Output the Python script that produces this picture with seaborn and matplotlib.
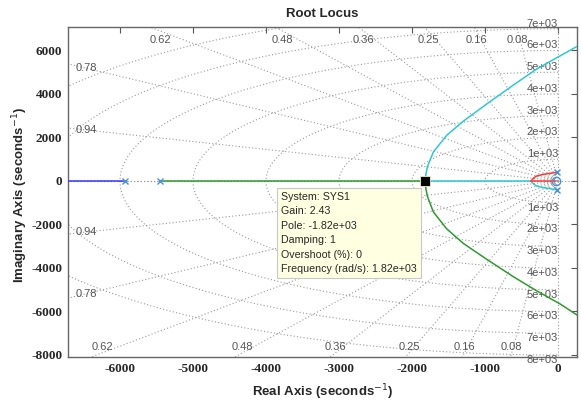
import numpy as np
import matplotlib
matplotlib.use('Agg')
import matplotlib.pyplot as plt
import seaborn as sns

# branch data (real, imag)
blue_re = [-7000, -5930]
blue_im = [0, 0]
green_axis_re = [-5450, -1820]
green_axis_im = [0, 0]
green_re = [-1820, -1810, -1790, -1708, -1525, -1297, -977, -612, -292, 27, 278]
green_im = [0, -350, -700, -1420, -2200, -2870, -3600, -4400, -5050, -5650, -6200]
cyan_re = [-1820, -1810, -1790, -1708, -1525, -1297, -977, -612, -292, 27, 278]
cyan_im = [0, 300, 650, 1330, 2100, 2750, 3540, 4410, 5150, 5750, 6220]
cyan_axis_re = [-1820, -370]
cyan_axis_im = [0, 0]
cyan_loop_re = [-370, -330, -292, -201, -110, -10]
cyan_loop_im = [0, -150, -230, -307, -352, -400]
red_loop_re = [-370, -330, -292, -201, -110, -10]
red_loop_im = [0, 150, 230, 307, 352, 400]
red_axis_re = [-370, -30]
red_axis_im = [0, 0]

pole_re = [-5930, -5450, -10, -10]
pole_im = [0, 0, 400, -400]
zero_re = [-30]
zero_im = [0]
sel_re = [-1820]
sel_im = [0]

# damping / natural frequency grid
zetas = [0.08, 0.16, 0.25, 0.36, 0.48, 0.62, 0.78, 0.94]
wns = [1000, 2000, 3000, 4000, 5000, 6000, 7000, 8000]
wn_labels = ['1e+03', '2e+03', '3e+03', '4e+03', '5e+03', '6e+03', '7e+03', '8e+03']

xticks = [-6000, -5000, -4000, -3000, -2000, -1000, 0]
yticks = [-8000, -6000, -4000, -2000, 0, 2000, 4000, 6000]

xmin, xmax = -6712, 260
ymin, ymax = -8092, 7080

tip = ("System: SYS1\nGain: 2.43\nPole: -1.82e+03\nDamping: 1\n"
       "Overshoot (%): 0\nFrequency (rad/s): 1.82e+03")

sns.set_theme(style='white')
plt.rcParams['font.family'] = ['Liberation Sans', 'DejaVu Sans']

fig = plt.figure(figsize=(5.81, 4.01), dpi=100)
ax = fig.add_axes([68 / 581, 44 / 401, 509 / 581, 330 / 401])

gcol = '#9a9a9a'
gls = (0, (1, 2))
# rays
for z in zetas + [0.0, 1.0]:
    s = np.sqrt(1 - z ** 2)
    ax.plot([0, -20000 * z], [0, 20000 * s], color=gcol, ls=gls, lw=0.8, zorder=1)
    ax.plot([0, -20000 * z], [0, -20000 * s], color=gcol, ls=gls, lw=0.8, zorder=1)
ax.plot([0, xmax], [0, 0], color=gcol, ls=gls, lw=0.8, zorder=1)
# arcs
th = np.linspace(np.pi / 2, 3 * np.pi / 2, 200)
for w in wns:
    ax.plot(w * np.cos(th), w * np.sin(th), color=gcol, ls=gls, lw=0.8, zorder=1)

lab_kw = dict(color='#555555', fontsize=8, family='Liberation Sans', zorder=2)
for z in zetas:
    k = z / np.sqrt(1 - z ** 2)
    if -ymax * k > xmin:
        ax.text(-(ymax - 180) * k, ymax - 600, f'{z:g}', ha='center', va='center', **lab_kw)
        ax.text((ymin + 200) * k, ymin + 470, f'{z:g}', ha='center', va='center', **lab_kw)
    else:
        xl = xmin + 250
        ax.text(xl, -xl / k, f'{z:g}', ha='center', va='center', **lab_kw)
        ax.text(xl, xl / k, f'{z:g}', ha='center', va='center', **lab_kw)
for w, lab in zip(wns, wn_labels):
    if w < ymax:
        ax.text(0, w, lab, ha='right', va='bottom', **lab_kw)
    if -w > ymin:
        ax.text(0, -w, lab, ha='right', va='top', **lab_kw)

blue = '#3535ff'
green = '#2e9a2e'
cyan = '#2ec8d2'
red = '#ff3838'
lkw = dict(sort=False, estimator=None, lw=1.1, ax=ax, zorder=3)
sns.lineplot(x=blue_re, y=blue_im, color=blue, **lkw)
sns.lineplot(x=green_axis_re, y=green_axis_im, color=green, **lkw)
sns.lineplot(x=green_re, y=green_im, color=green, **lkw)
sns.lineplot(x=cyan_re, y=cyan_im, color=cyan, **lkw)
sns.lineplot(x=cyan_axis_re, y=cyan_axis_im, color=cyan, **lkw)
sns.lineplot(x=cyan_loop_re, y=cyan_loop_im, color=cyan, **lkw)
sns.lineplot(x=red_loop_re, y=red_loop_im, color=red, **lkw)
sns.lineplot(x=red_axis_re, y=red_axis_im, color=red, **lkw)

ax.plot(pole_re, pole_im, ls='none', marker='x', ms=5, mew=1.0, color='#4a90d9', zorder=4)
ax.plot(zero_re, zero_im, ls='none', marker='o', ms=6, mew=1.0, mfc='none', color='#4a90d9', zorder=4)
ax.plot(sel_re, sel_im, ls='none', marker='s', ms=7, mfc='black', mec='#f0f0c8', mew=0.6, zorder=5)

ax.text(-3795, -506, tip, ha='left', va='top', fontsize=7.7, family='Liberation Sans',
        linespacing=1.55, zorder=6,
        bbox=dict(boxstyle='square,pad=0.4', fc='#ffffe1', ec='#c8c8c8', lw=0.8))

ax.set_xlim(xmin, xmax)
ax.set_ylim(ymin, ymax)
tick_font = dict(family='Liberation Serif', fontweight='bold', fontsize=9.5)
ax.set_xticks(xticks)
ax.set_xticklabels([str(t) for t in xticks], **tick_font)
ax.set_yticks(yticks)
ax.set_yticklabels([str(t) for t in yticks], **tick_font)
ax.tick_params(direction='in', length=4, width=0.8, top=True, right=True,
               color='#555555', pad=4)
for sp in ax.spines.values():
    sp.set_color('#666666')
    sp.set_linewidth(1.0)

ax.set_title('Root Locus', fontsize=9.5, fontweight='bold', pad=7)
ax.set_xlabel('Real Axis (seconds$^{-1}$)', fontsize=9.5, fontweight='bold', labelpad=6)
ax.set_ylabel('Imaginary Axis (seconds$^{-1}$)', fontsize=9.5, fontweight='bold')
ax.yaxis.set_label_coords(-0.075, 0.49)

fig.savefig('out.png', dpi=100)
